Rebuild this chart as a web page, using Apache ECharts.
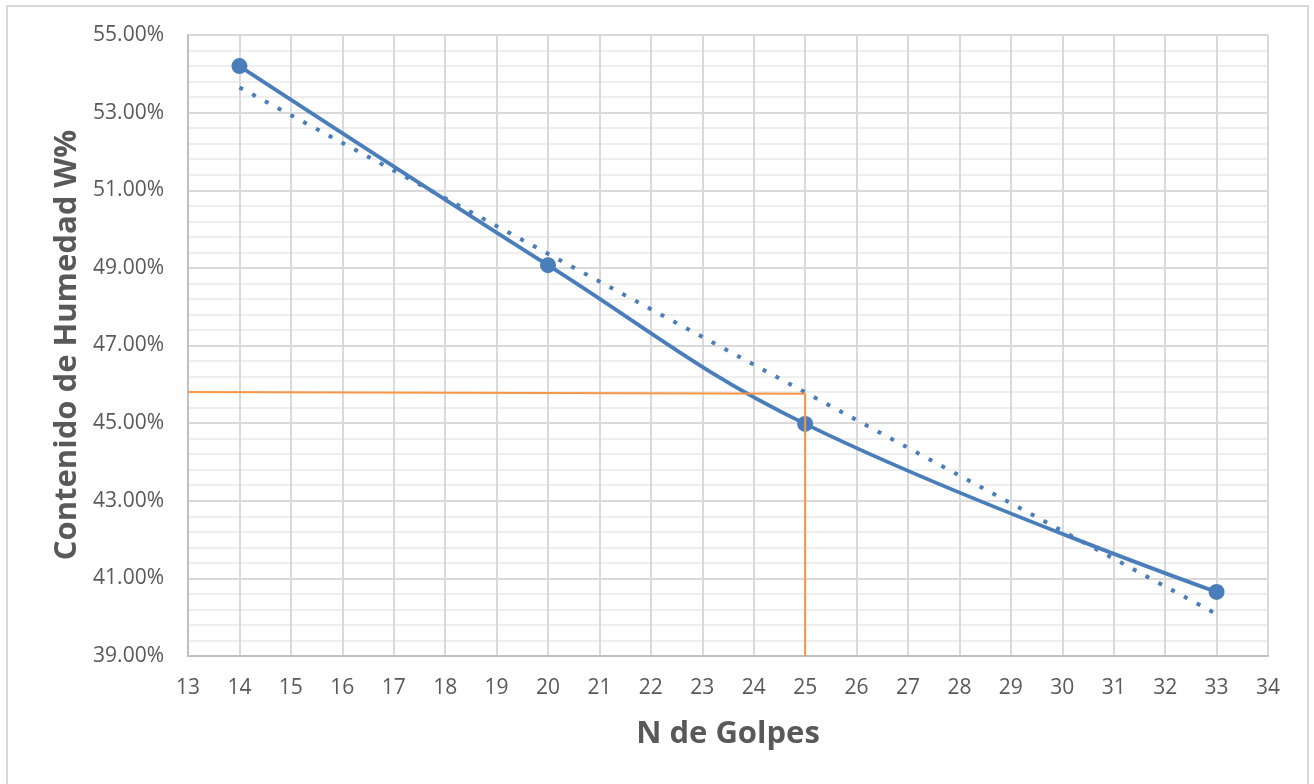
<!DOCTYPE html>
<html>
<head>
<meta charset="utf-8">
<script src="https://cdn.jsdelivr.net/npm/echarts@6/dist/echarts.min.js"></script>
<style>
html,body{margin:0;padding:0;background:#fff;}
#chart{width:1314px;height:784px;}
</style>
</head>
<body>
<div id="chart"></div>
<script>
// Data
var golpes = [14, 20, 25, 33];
var humedad = [54.20, 49.07, 44.98, 40.65];
var trendX = [14, 33];
var trendY = [53.65, 40.08];
var guideX = [13, 25, 25];
var guideY = [45.80, 45.76, 39.00];
var xTicks = {min: 13, max: 34, interval: 1};
var yTicks = {min: 39, max: 55, interval: 2};
var xTitle = 'N de Golpes';
var yTitle = 'Contenido de Humedad W%';

function pairs(xs, ys){ return xs.map(function(x,i){ return [x, ys[i]]; }); }

var chart = echarts.init(document.getElementById('chart'), null, {renderer:'canvas'});
var font = '"Open Sans", sans-serif';
var option = {
  animation: false,
  backgroundColor: '#ffffff',
  grid: {left: 188, right: 46, top: 35, bottom: 128, containLabel: false},
  graphic: [
    {type:'rect', shape:{x:7, y:6, width:1301, height:790}, style:{fill:'none', stroke:'#d9d9d9', lineWidth:2}, silent:true, z:-1},
    {type:'text', x:728, y:734, style:{text:xTitle, font:'bold 31px "Open Sans", sans-serif', fill:'#595959', align:'center', verticalAlign:'middle'}},
    {type:'text', x:67, y:345, rotation:Math.PI/2, style:{text:yTitle, font:'bold 31px "Open Sans", sans-serif', fill:'#595959', align:'center', verticalAlign:'middle'}}
  ],
  xAxis: {
    type:'value', min:xTicks.min, max:xTicks.max, interval:xTicks.interval,
    axisLine:{show:true, lineStyle:{color:'#bfbfbf', width:2}},
    axisTick:{show:false},
    axisLabel:{color:'#595959', fontFamily:font, fontSize:21, margin:22},
    splitLine:{show:true, lineStyle:{color:'#d9d9d9', width:2}}
  },
  yAxis: {
    type:'value', min:yTicks.min, max:yTicks.max, interval:yTicks.interval,
    axisLine:{show:true, lineStyle:{color:'#bfbfbf', width:2}},
    axisTick:{show:false},
    axisLabel:{color:'#595959', fontFamily:font, fontSize:21, margin:24, formatter:function(v){return v.toFixed(2)+'%';}},
    splitLine:{show:true, lineStyle:{color:'#d9d9d9', width:2}},
    minorTick:{show:false, splitNumber:5},
    minorSplitLine:{show:true, lineStyle:{color:'#eeeeee', width:2}}
  },
  series: [
    {
      type:'line', data:pairs(trendX, trendY), symbol:'none', z:2,
      lineStyle:{color:'#4a7ebb', width:4, type:[4,10.5], cap:'butt'}
    },
    {
      type:'line', data:pairs(golpes, humedad), smooth:0.4, z:3,
      symbol:'circle', symbolSize:16,
      itemStyle:{color:'#4a7ebb'},
      lineStyle:{color:'#4a7ebb', width:3.8}
    },
    {
      type:'line', data:pairs(guideX, guideY), symbol:'none', z:4,
      lineStyle:{color:'#f79646', width:2}
    }
  ]
};
chart.setOption(option);
</script>
</body>
</html>
